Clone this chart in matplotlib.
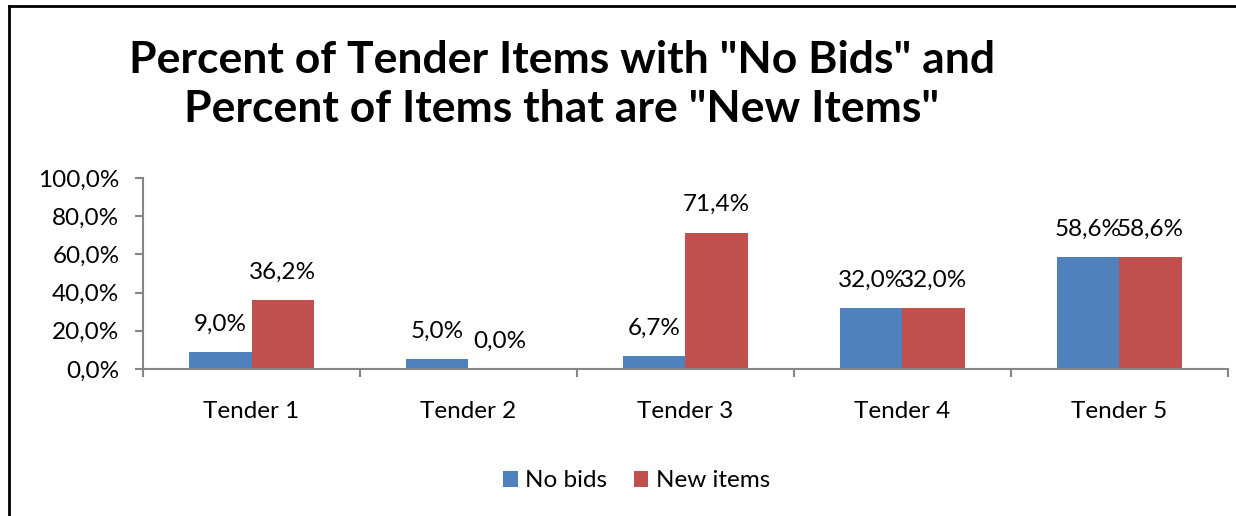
import numpy as np
import matplotlib
matplotlib.use("Agg")
import matplotlib.pyplot as plt
from matplotlib.lines import Line2D

plt.rcParams["font.family"] = ["Lato", "DejaVu Sans"]

tenders = ["Tender 1", "Tender 2", "Tender 3", "Tender 4", "Tender 5"]
no_bids = [9.0, 5.0, 6.7, 32.0, 58.6]
new_items = [36.2, 0.0, 71.4, 32.0, 58.6]
yticks = [0, 20, 40, 60, 80, 100]

BLUE, RED, GRIS = "#4f81bd", "#c0504d", "#868686"
FS = 17.5


def pct(v):
    return f"{v:.1f}%".replace(".", ",")


fig = plt.figure(figsize=(12.36, 5.16), dpi=100)
ax = fig.add_axes([0.1157, 0.2849, 0.8778, 0.3702])

x = np.arange(len(tenders))
w = 0.286
b1 = ax.bar(x - w / 2, no_bids, w, color=BLUE, label="No bids")
b2 = ax.bar(x + w / 2, new_items, w, color=RED, label="New items")

for barras, vals in ((b1, no_bids), (b2, new_items)):
    for b, v in zip(barras, vals):
        ax.annotate(pct(v), (b.get_x() + b.get_width() / 2, v),
                    xytext=(0, 20), textcoords="offset points",
                    ha="center", va="center", fontsize=FS)

ax.set_xlim(-0.5, len(tenders) - 0.5)
ax.set_ylim(0, 100)
ax.set_yticks(yticks)
ax.set_yticklabels([pct(v) for v in yticks], fontsize=FS)
ax.set_xticks(x)
ax.set_xticklabels(tenders, fontsize=FS)
ax.set_xticks(np.arange(len(tenders) + 1) - 0.5, minor=True)
ax.tick_params(axis="x", which="major", length=0, pad=23)
ax.tick_params(axis="x", which="minor", length=6, width=1.5, color=GRIS)
ax.tick_params(axis="y", length=6, width=1.5, color=GRIS, pad=11)

for lado in ("top", "right"):
    ax.spines[lado].set_visible(False)
for lado in ("left", "bottom"):
    ax.spines[lado].set_color(GRIS)
    ax.spines[lado].set_linewidth(1.5)

fig.text(0.4547, 0.836, 'Percent of Tender Items with "No Bids" and\n'
         'Percent of Items that are "New Items"',
         ha="center", va="center", fontsize=32, fontweight="bold",
         linespacing=1.28)

fig.legend(handles=[b1, b2], loc="center", bbox_to_anchor=(0.515, 0.068),
           ncol=2, frameon=False, fontsize=FS, handlelength=0.6,
           handleheight=0.6, handletextpad=0.3, columnspacing=1.1)

# marco del grafico
fig.add_artist(Line2D([0.0073, 0.0073], [0.988, 0.0], color="black", lw=2,
                      transform=fig.transFigure))
fig.add_artist(Line2D([0.0073, 1.0], [0.988, 0.988], color="black", lw=2,
                      transform=fig.transFigure))

fig.savefig("out.png", dpi=100)
